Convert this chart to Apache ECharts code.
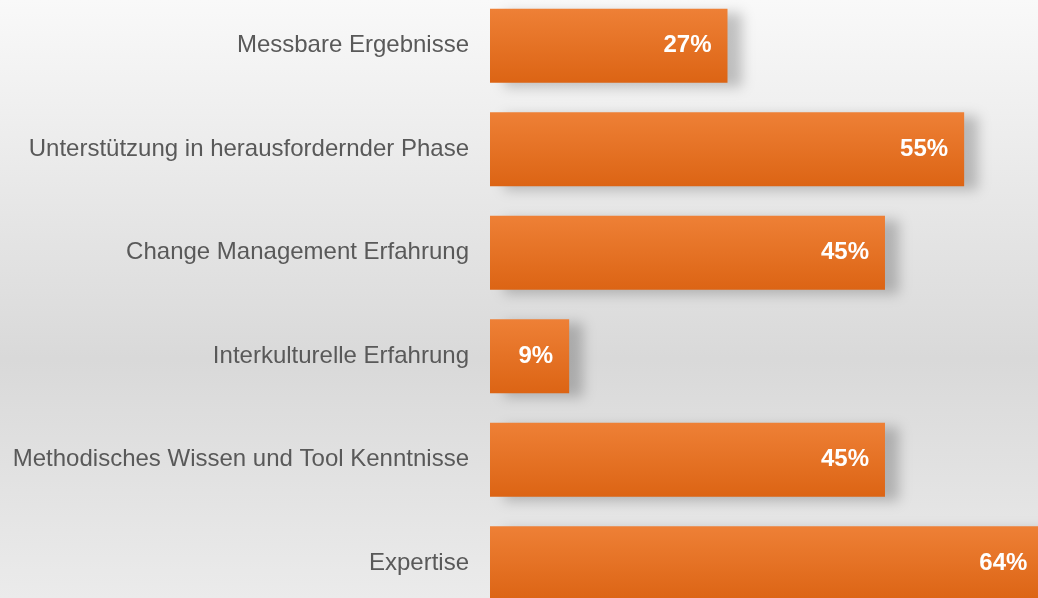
<!DOCTYPE html>
<html>
<head>
<meta charset="utf-8">
<style>
  html, body { margin: 0; padding: 0; }
  #chart { width: 1038px; height: 598px; }
</style>
<script src="https://cdn.jsdelivr.net/npm/echarts@6/dist/echarts.min.js"></script>
</head>
<body>
<div id="chart"></div>
<script>
// Daten
const categories = [
  'Messbare Ergebnisse',
  'Unterstützung in herausfordernder Phase',
  'Change Management Erfahrung',
  'Interkulturelle Erfahrung',
  'Methodisches Wissen und Tool Kenntnisse',
  'Expertise'
]
// Werte in %, Beschriftung gerundet
const values = [27.3, 54.5, 45.4, 9.1, 45.4, 63.6]

const chart = echarts.init(document.getElementById('chart'), null, { renderer: 'canvas' })

chart.setOption({
  backgroundColor: new echarts.graphic.LinearGradient(0, 0, 0, 1, [
    { offset: 0, color: '#f9f9f9' },
    { offset: 0.6, color: '#d9d9d9' },
    { offset: 1, color: '#ebebeb' }
  ]),
  animation: false,
  grid: {
    left: 490,
    right: -322,
    top: -6,
    bottom: -17,
    outerBoundsMode: 'none',
    containLabel: false
  },
  xAxis: {
    type: 'value',
    min: 0,
    max: 100,
    show: false
  },
  yAxis: {
    type: 'category',
    data: categories,
    inverse: true,
    axisLine: { show: false },
    axisTick: { show: false },
    splitLine: { show: false },
    axisLabel: {
      margin: 21,
      color: '#595959',
      fontSize: 24,
      fontFamily: 'Liberation Sans, Arial, sans-serif'
    }
  },
  series: [{
    type: 'bar',
    data: values,
    barWidth: 74,
    clip: false,
    itemStyle: {
      color: new echarts.graphic.LinearGradient(0, 0, 0, 1, [
        { offset: 0, color: '#ee8036' },
        { offset: 1, color: '#dc6414' }
      ]),
      shadowColor: 'rgba(0,0,0,0.22)',
      shadowBlur: 12,
      shadowOffsetX: 14,
      shadowOffsetY: 4
    },
    label: {
      show: true,
      position: 'insideRight',
      distance: 16,
      formatter: (p) => Math.round(p.value) + '%',
      color: '#ffffff',
      fontSize: 24,
      fontWeight: 'bold',
      fontFamily: 'Liberation Sans, Arial, sans-serif'
    }
  }]
})
</script>
</body>
</html>
